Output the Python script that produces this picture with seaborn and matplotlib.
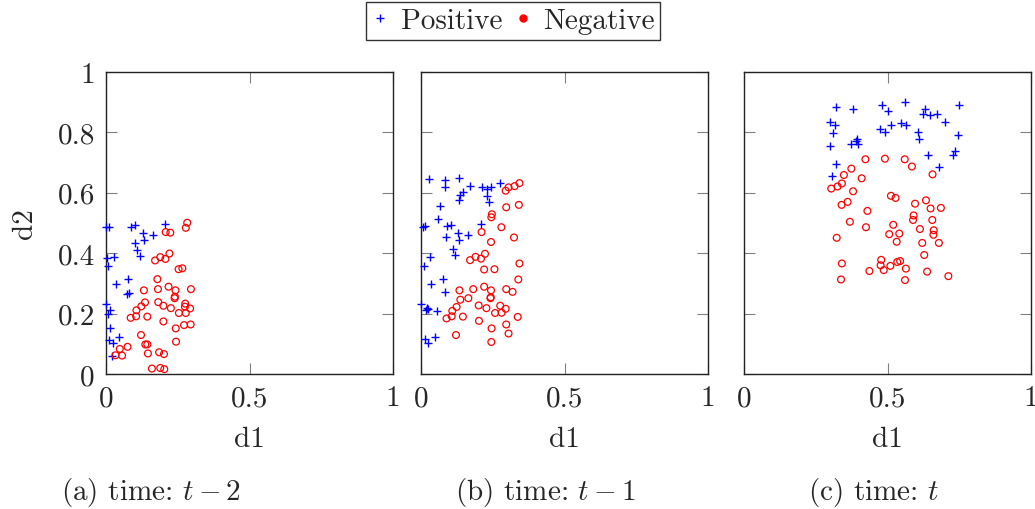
import matplotlib
matplotlib.use("Agg")
import matplotlib.pyplot as plt
from matplotlib.lines import Line2D
import seaborn as sns
import pandas as pd

# (a) time t-2
pos_a_d1 = [0.0, 0.010, 0.087, 0.101, 0.206, 0.128, 0.131, 0.163, 0.101, 0.108, 0.117, 0.003, 0.029,
            0.008, 0.034, 0.077, 0.074, 0.081, 0.0, 0.015, 0.006, 0.013, 0.012, 0.046, 0.023, 0.020]
pos_a_d2 = [0.487, 0.487, 0.487, 0.492, 0.498, 0.467, 0.444, 0.461, 0.433, 0.412, 0.392, 0.383, 0.386,
            0.359, 0.298, 0.313, 0.264, 0.268, 0.233, 0.211, 0.200, 0.151, 0.114, 0.121, 0.103, 0.059]
neg_a_d1 = [0.283, 0.278, 0.208, 0.224, 0.171, 0.189, 0.207, 0.221, 0.253, 0.266, 0.179, 0.132, 0.181,
            0.218, 0.242, 0.296, 0.240, 0.239, 0.136, 0.182, 0.123, 0.106, 0.200, 0.226, 0.276, 0.275,
            0.293, 0.254, 0.278, 0.086, 0.105, 0.144, 0.200, 0.243, 0.272, 0.295, 0.122, 0.137, 0.144,
            0.244, 0.075, 0.048, 0.033, 0.056, 0.146, 0.185, 0.202, 0.160, 0.189, 0.203]
neg_a_d2 = [0.501, 0.484, 0.470, 0.468, 0.376, 0.387, 0.381, 0.399, 0.347, 0.350, 0.314, 0.277, 0.281,
            0.289, 0.277, 0.281, 0.256, 0.251, 0.237, 0.238, 0.224, 0.211, 0.226, 0.218, 0.233, 0.223,
            0.217, 0.202, 0.202, 0.186, 0.191, 0.190, 0.174, 0.151, 0.162, 0.164, 0.129, 0.098, 0.098,
            0.107, 0.090, 0.083, 0.062, 0.061, 0.068, 0.072, 0.066, 0.018, 0.020, 0.016]

# (b) time t-1
pos_b_d1 = [0.029, 0.084, 0.131, 0.082, 0.172, 0.214, 0.231, 0.244, 0.274, 0.146, 0.137, 0.134, 0.229,
            0.238, 0.067, 0.060, 0.007, 0.014, 0.089, 0.103, 0.208, 0.086, 0.129, 0.164, 0.134, 0.110,
            0.120, 0.033, 0.010, 0.035, 0.078, 0.082, 0.0, 0.022, 0.026, 0.017, 0.057, 0.014, 0.026, 0.049]
pos_b_d2 = [0.646, 0.644, 0.649, 0.618, 0.623, 0.620, 0.611, 0.618, 0.633, 0.603, 0.594, 0.576, 0.590,
            0.570, 0.557, 0.512, 0.487, 0.490, 0.489, 0.492, 0.498, 0.452, 0.467, 0.460, 0.444, 0.413,
            0.394, 0.387, 0.359, 0.298, 0.313, 0.270, 0.233, 0.220, 0.214, 0.212, 0.209, 0.116, 0.103, 0.122]
neg_b_d1 = [0.343, 0.326, 0.305, 0.295, 0.341, 0.297, 0.247, 0.245, 0.280, 0.211, 0.324, 0.244, 0.171,
            0.190, 0.209, 0.223, 0.343, 0.220, 0.256, 0.339, 0.134, 0.182, 0.220, 0.244, 0.297, 0.319,
            0.165, 0.137, 0.243, 0.242, 0.124, 0.109, 0.201, 0.228, 0.276, 0.295, 0.089, 0.107, 0.146,
            0.258, 0.281, 0.337, 0.202, 0.246, 0.297, 0.305, 0.122, 0.245]
neg_b_d2 = [0.632, 0.622, 0.618, 0.607, 0.560, 0.552, 0.529, 0.519, 0.486, 0.470, 0.452, 0.437, 0.377,
            0.388, 0.382, 0.398, 0.366, 0.346, 0.347, 0.313, 0.277, 0.281, 0.289, 0.277, 0.281, 0.272,
            0.251, 0.246, 0.254, 0.251, 0.222, 0.209, 0.227, 0.218, 0.226, 0.216, 0.184, 0.191, 0.190,
            0.202, 0.203, 0.189, 0.176, 0.151, 0.164, 0.134, 0.129, 0.106]

# (c) time t
pos_c_d1 = [0.319, 0.381, 0.481, 0.503, 0.562, 0.630, 0.622, 0.649, 0.672, 0.749, 0.300, 0.318, 0.309,
            0.512, 0.548, 0.566, 0.702, 0.475, 0.491, 0.607, 0.610, 0.747, 0.300, 0.374, 0.391, 0.397,
            0.395, 0.642, 0.735, 0.728, 0.322, 0.678, 0.305]
pos_c_d2 = [0.884, 0.879, 0.892, 0.871, 0.901, 0.877, 0.860, 0.859, 0.862, 0.892, 0.834, 0.826, 0.798,
            0.826, 0.832, 0.826, 0.833, 0.810, 0.801, 0.801, 0.777, 0.791, 0.755, 0.760, 0.770, 0.762,
            0.777, 0.724, 0.740, 0.726, 0.696, 0.684, 0.654]
neg_c_d1 = [0.423, 0.491, 0.560, 0.585, 0.374, 0.348, 0.410, 0.657, 0.304, 0.326, 0.341, 0.380, 0.512,
            0.528, 0.634, 0.596, 0.361, 0.340, 0.650, 0.686, 0.430, 0.591, 0.589, 0.656, 0.369, 0.425,
            0.520, 0.613, 0.661, 0.660, 0.506, 0.541, 0.323, 0.532, 0.621, 0.679, 0.628, 0.341, 0.478,
            0.476, 0.534, 0.544, 0.510, 0.487, 0.437, 0.564, 0.638, 0.712, 0.338, 0.561]
neg_c_d2 = [0.711, 0.713, 0.711, 0.687, 0.680, 0.659, 0.648, 0.661, 0.614, 0.621, 0.631, 0.605, 0.590,
            0.583, 0.575, 0.564, 0.570, 0.560, 0.548, 0.550, 0.540, 0.525, 0.510, 0.510, 0.504, 0.486,
            0.494, 0.480, 0.476, 0.461, 0.463, 0.465, 0.451, 0.438, 0.434, 0.434, 0.394, 0.366, 0.378,
            0.360, 0.371, 0.374, 0.358, 0.344, 0.341, 0.349, 0.339, 0.324, 0.313, 0.311]

captions = ["(a) time: $t-2$", "(b) time: $t-1$", "(c) time: $t$"]
x_ticks = [0, 0.5, 1]
x_tick_labels = ["0", "0.5", "1"]
y_ticks = [0, 0.2, 0.4, 0.6, 0.8, 1]
y_tick_labels = ["0", "0.2", "0.4", "0.6", "0.8", "1"]

panels = [
    (pos_a_d1, pos_a_d2, neg_a_d1, neg_a_d2),
    (pos_b_d1, pos_b_d2, neg_b_d1, neg_b_d2),
    (pos_c_d1, pos_c_d2, neg_c_d1, neg_c_d2),
]

sns.set_style("ticks")
plt.rcParams["font.family"] = ["cmr10", "DejaVu Serif"]
plt.rcParams["mathtext.fontset"] = "cm"
plt.rcParams["axes.formatter.use_mathtext"] = True
plt.rcParams["font.size"] = 21

W, H = 1035, 510
fig = plt.figure(figsize=(W / 100, H / 100), dpi=100)

lefts = [106, 421, 744]
caption_x = [151, 545, 874]

for i, (pd1, pd2, nd1, nd2) in enumerate(panels):
    ax = fig.add_axes([lefts[i] / W, 135 / H, 287 / W, 302 / H])
    pos_df = pd.DataFrame({"d1": pd1, "d2": pd2})
    neg_df = pd.DataFrame({"d1": nd1, "d2": nd2})
    sns.scatterplot(data=pos_df, x="d1", y="d2", ax=ax, marker="+", color="blue",
                    s=26, linewidth=1.0, clip_on=False, zorder=3)
    sns.scatterplot(data=neg_df, x="d1", y="d2", ax=ax, marker="o", facecolors="none",
                    edgecolor="red", s=24, linewidth=0.9, clip_on=False, zorder=3)
    ax.set_xlim(0, 1)
    ax.set_ylim(0, 1)
    ax.set_xticks(x_ticks)
    ax.set_xticklabels(x_tick_labels)
    ax.set_yticks(y_ticks)
    if i == 0:
        ax.set_yticklabels(y_tick_labels)
        ax.set_ylabel("d2", labelpad=14)
    else:
        ax.set_yticklabels([])
        ax.set_ylabel("")
    ax.set_xlabel("d1", labelpad=10)
    ax.tick_params(direction="in", length=8, width=0.8, color="#808080",
                   top=True, right=True, pad=8, labelsize=21)
    for sp in ax.spines.values():
        sp.set_visible(True)
        sp.set_color("#222222")
        sp.set_linewidth(1.0)
    fig.text(caption_x[i] / W, 1 - 493 / H, captions[i], ha="center", va="center", fontsize=21)

handles = [
    Line2D([], [], marker="+", color="blue", linestyle="none", markersize=6, markeredgewidth=1.0),
    Line2D([], [], marker="o", color="red", linestyle="none", markersize=5),
]
leg = fig.legend(handles, ["Positive", "Negative"], loc="upper center",
                 bbox_to_anchor=(513 / W, 1 - 3 / H), ncol=2, frameon=True,
                 fancybox=False, edgecolor="black", handlelength=0.6, handletextpad=0.4,
                 columnspacing=0.4, borderpad=0.2, borderaxespad=0, fontsize=21)
leg.get_frame().set_linewidth(1.0)

fig.savefig("out.png", dpi=100)
